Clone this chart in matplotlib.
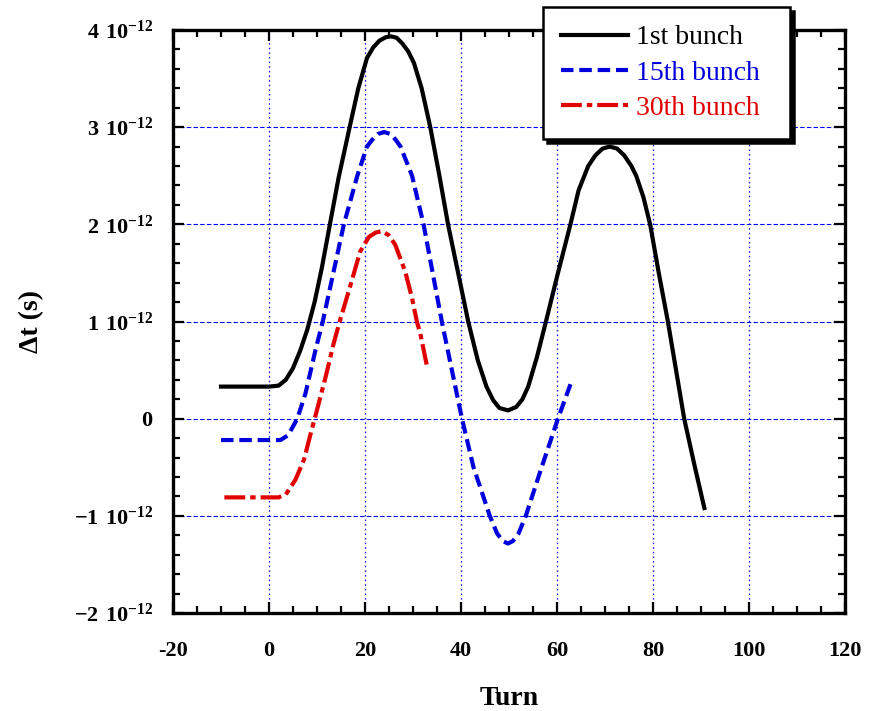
import matplotlib.pyplot as plt
from matplotlib.ticker import MultipleLocator, FixedLocator, FuncFormatter
import numpy as np

plt.rcParams['font.family'] = ['Liberation Serif', 'DejaVu Serif']
plt.rcParams['mathtext.fontset'] = 'custom'
plt.rcParams['mathtext.rm'] = 'Liberation Serif'
plt.rcParams['mathtext.bf'] = 'Liberation Serif:bold'

# values, dt in units of 1e-12 s
turn_1st = [-10, 0, 2, 3.5, 5, 6.5, 8, 9.5, 11, 12.5, 14.5, 16.8, 18.6, 20.4,
            21.7, 23, 24.3, 25.4, 26.6, 27.8, 29, 30.2, 31.8, 33.6, 35.5,
            37.3, 39.4, 41.5, 43.5, 45.3, 46.7, 48, 49.8, 51.5, 52.8, 54, 55.8,
            57.7, 60.2, 62.8, 64.5, 66.5, 68, 69.5, 71, 72.5, 74, 75.5, 76.5,
            78, 79.4, 81.2, 83.1, 84.8, 86.5, 88.6, 90.7]
dt_1st = [0.33, 0.33, 0.34, 0.40, 0.52, 0.70, 0.92, 1.2, 1.55, 1.95, 2.48, 3.0,
          3.4, 3.71, 3.82, 3.89, 3.925, 3.935, 3.92, 3.86, 3.78, 3.66, 3.4,
          3.0, 2.5, 2.0, 1.5, 1.0, 0.6, 0.33, 0.19, 0.11, 0.085, 0.12, 0.2,
          0.33, 0.63, 1.0, 1.5, 2.0, 2.35, 2.6, 2.71, 2.78, 2.80, 2.78, 2.71,
          2.6, 2.5, 2.28, 2.0, 1.5, 1.0, 0.5, 0.0, -0.47, -0.92]

turn_15th = [-10, 2.4, 4, 5.9, 7.6, 9.7, 11.2, 13.4, 15.6, 18.4, 20.4, 21.5,
             22.7, 24, 25.3, 26.4, 27.4, 29.8, 32.2, 36.0, 40.2, 42.6, 46, 47.5,
             48.7, 49.8, 50.8, 52, 53.5, 56.8, 60.2, 63]
dt_15th = [-0.22, -0.22, -0.17, 0.0, 0.26, 0.71, 1.0, 1.5, 2.0, 2.5, 2.8, 2.87,
           2.93, 2.95, 2.93, 2.87, 2.8, 2.5, 2.0, 1.0, 0.0, -0.5, -1.0, -1.18,
           -1.26, -1.285, -1.26, -1.18, -1.0, -0.5, 0.0, 0.38]

turn_30th = [-9.3, 2, 3.5, 5.5, 7.3, 8.7, 10, 11.8, 13.5, 14.9, 16.6, 19.0,
             20.8, 22.2, 23.5, 24.9, 26.3, 28.4, 29.8, 30.8, 31.5, 33.0]
dt_30th = [-0.81, -0.81, -0.78, -0.63, -0.42, -0.15, 0.09, 0.43, 0.78, 1.03,
           1.31, 1.72, 1.87, 1.915, 1.93, 1.89, 1.79, 1.51, 1.24, 1.0, 0.88, 0.52]

x_ticks = [-20, 0, 20, 40, 60, 80, 100, 120]
y_ticks = [-2, -1, 0, 1, 2, 3, 4]

fig = plt.figure(figsize=(8.78, 7.11), dpi=100)
ax = fig.add_axes([173/878, 1-613/711, 672/878, 583/711])

ax.plot(turn_1st, np.array(dt_1st)*1e-12, color='black', lw=3,
        label='1st bunch', zorder=3)
ax.plot(turn_15th, np.array(dt_15th)*1e-12, color='#0000dd', lw=3,
        linestyle=(0, (3.0, 1.4)), label='15th bunch', zorder=3)
ax.plot(turn_30th, np.array(dt_30th)*1e-12, color='#e00000', lw=3,
        linestyle=(0, (5.0, 1.2, 1.3, 1.2)), label='30th bunch', zorder=3)

ax.set_xlim(-20, 120)
ax.set_ylim(-2e-12, 4e-12)
ax.xaxis.set_major_locator(FixedLocator(x_ticks))
ax.xaxis.set_minor_locator(MultipleLocator(5))
ax.yaxis.set_major_locator(FixedLocator([v*1e-12 for v in y_ticks]))
ax.yaxis.set_minor_locator(MultipleLocator(0.2e-12))

def yfmt(v, pos):
    n = int(round(v*1e12))
    if n == 0:
        return r'$\mathbf{0}$'
    return r'$\mathbf{%d\ 10^{-12}}$' % n

ax.yaxis.set_major_formatter(FuncFormatter(yfmt))
ax.xaxis.set_major_formatter(FuncFormatter(lambda v, p: '%d' % v))

ax.yaxis.grid(True, which='major', color='#0000ff', lw=0.8,
              linestyle=(0, (4, 2)))
ax.xaxis.grid(True, which='major', color='#0000ff', lw=0.9,
              linestyle=(0, (1.2, 2.5)))
ax.set_axisbelow(True)

for s in ax.spines.values():
    s.set_linewidth(2.4)
ax.tick_params(which='both', direction='in', top=True, right=True, width=1.6)
ax.tick_params(which='major', length=8)
ax.tick_params(which='minor', length=5)
ax.tick_params(axis='x', which='major', pad=20, labelsize=16)
ax.tick_params(axis='y', which='major', pad=14, labelsize=16)
for lab in ax.get_xticklabels():
    lab.set_fontweight('bold')

ax.set_xlabel('Turn', fontsize=20, fontweight='bold', labelpad=18)
ax.set_ylabel('Δt (s)', fontsize=20, fontweight='bold', labelpad=22)

leg = ax.legend(loc='upper left',
                bbox_to_anchor=(543/878, 1-135/711, 247/878, 128/711),
                bbox_transform=fig.transFigure, borderaxespad=0, mode='expand',
                fontsize=20, handlelength=2.4, handletextpad=0.3,
                labelspacing=0.35, borderpad=0.65, fancybox=False,
                framealpha=1, edgecolor='black',
                shadow={'ox': 3, 'oy': -3, 'facecolor': 'black',
                        'edgecolor': 'black', 'alpha': 1})
leg.get_frame().set_linewidth(1.8)
for txt, c in zip(leg.get_texts(), ['black', '#0000dd', '#e00000']):
    txt.set_color(c)
leg.set_zorder(5)

fig.savefig('out.png', dpi=100)
